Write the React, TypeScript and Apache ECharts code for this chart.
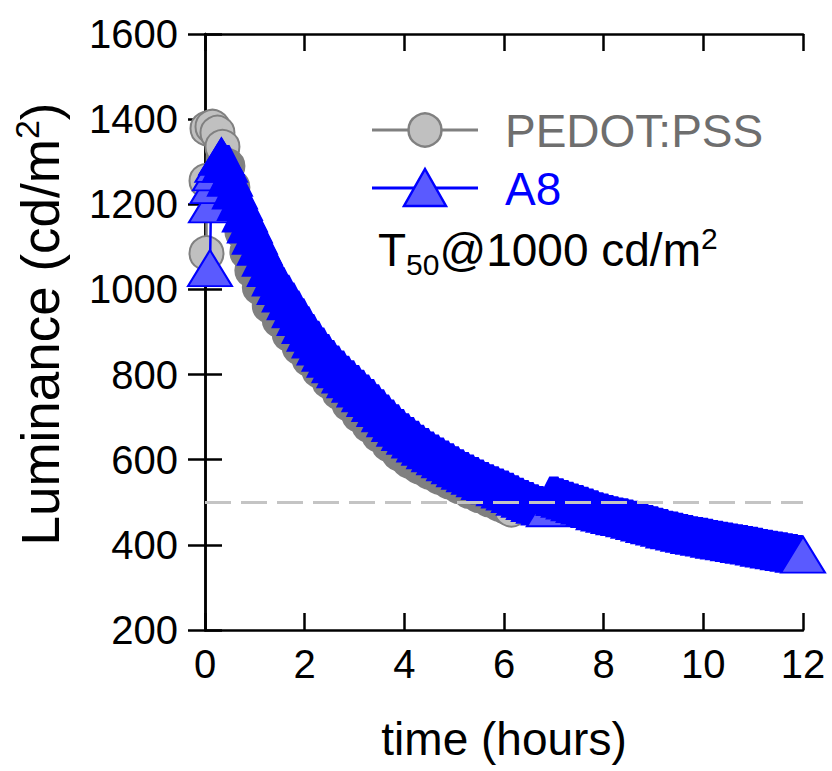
import React, { useEffect, useRef } from "react";
import * as echarts from "echarts";

// ---- data ----
const pedotTime = [
  0.03, 0.03, 0.05, 0.15, 0.25, 0.35, 0.45, 0.55, 0.65, 0.75, 0.85, 0.95, 1.1, 1.3, 1.5, 1.7, 1.9, 2.1, 2.3, 2.5,
  2.7, 2.9, 3.1, 3.3, 3.5, 3.7, 3.9, 4.1, 4.3, 4.5, 4.7, 4.9, 5.1, 5.3, 5.5, 5.7, 5.9, 6.05, 6.15,
];
const pedotLum = [
  1085, 1255, 1378, 1382, 1368, 1335, 1290, 1240, 1188, 1136, 1088, 1045, 1005, 962, 928, 895, 864, 836, 809, 784,
  758, 731, 705, 681, 658, 636, 615, 598, 584, 572, 560, 549, 538, 527, 517, 507, 497, 489, 483,
];

const a8Time = [
  0.1, 0.12, 0.15, 0.2, 0.25, 0.33, 0.4, 0.5, 0.6, 0.7, 0.8, 0.9, 1.0, 1.1, 1.2, 1.3, 1.4, 1.5, 1.6, 1.7, 1.8, 1.9,
  2.0, 2.1, 2.2, 2.3, 2.4, 2.5, 2.6, 2.7, 2.8, 2.9, 3.0, 3.1, 3.2, 3.3, 3.4, 3.5, 3.6, 3.7, 3.8, 3.9, 4.0, 4.1, 4.2,
  4.3, 4.4, 4.5, 4.6, 4.7, 4.8, 4.9, 5.0, 5.1, 5.2, 5.3, 5.4, 5.5, 5.6, 5.7, 5.8, 5.9, 6.0, 6.1, 6.2, 6.3, 6.4, 6.5,
  6.6, 6.7, 6.8, 6.9, 7.0, 7.1, 7.2, 7.3, 7.4, 7.5, 7.6, 7.7, 7.8, 7.9, 8.0, 8.1, 8.2, 8.3, 8.4, 8.5, 8.6, 8.7, 8.8,
  8.9, 9.0, 9.1, 9.2, 9.3, 9.4, 9.5, 9.6, 9.7, 9.8, 9.9, 10.0, 10.1, 10.2, 10.3, 10.4, 10.5, 10.6, 10.7, 10.8, 10.9,
  11.0, 11.1, 11.2, 11.3, 11.4, 11.5, 11.6, 11.7, 11.8, 11.9, 12.0,
];
const a8Lum = [
  1050, 1200, 1245, 1275, 1295, 1312, 1295, 1262, 1232, 1205, 1178, 1152, 1126, 1100, 1074, 1050, 1028, 1008, 990,
  972, 953, 935, 916, 898, 882, 866, 851, 837, 824, 812, 800, 789, 778, 767, 756, 745, 733, 721, 709, 697, 686, 675,
  665, 656, 647, 638, 630, 622, 615, 608, 601, 594, 587, 580, 574, 568, 562, 556, 550, 545, 540, 535, 530, 525, 519,
  513, 508, 503, 498, 494, 490, 486, 516, 512, 508, 504, 500, 496, 492, 488, 484, 479, 476, 473, 470, 467, 465, 462,
  459, 456, 452, 449, 446, 443, 440, 436, 434, 431, 428, 426, 423, 421, 419, 417, 414, 412, 410, 408, 406, 404, 402,
  400, 398, 396, 393, 391, 389, 387, 385, 383, 381, 379, 377,
];

const seriesNames = ["PEDOT:PSS", "A8"];
const t50Level = 500;
const xMin = 0, xMax = 12, xStep = 2;
const yMin = 200, yMax = 1600, yStep = 200;

// ---- styles ----
const FONT = "'Liberation Sans', Arial, sans-serif";
const GRAY_EDGE = "#808080";
const GRAY_LIGHT = "#c0c0c0";
const GRAY_DENSE = "#808080";
const BLUE = "#0000ff";
const BLUE_LIGHT = "#5a5aff";
// densely overlapping triangles merge into a band; a flat-topped marker keeps that band's edge smooth
const DENSE_MARK = "path://M19,0 L27,0 L46,38 L0,38 Z";

export default function App() {
  const ref = useRef<HTMLDivElement>(null);

  useEffect(() => {
    const chart = echarts.init(ref.current as HTMLDivElement, null, { renderer: "svg" });

    const lastP = pedotTime.length - 1;
    const pedotData = pedotTime.map((t, i) =>
      i <= 5 || i === lastP
        ? { value: [t, pedotLum[i]], itemStyle: { color: GRAY_LIGHT } }
        : { value: [t, pedotLum[i]] }
    );

    let peakIdx = 0;
    a8Lum.forEach((v, i) => {
      if (v > a8Lum[peakIdx]) peakIdx = i;
    });
    const jumpIdx = a8Lum.findIndex((v, i) => i > peakIdx && i < a8Lum.length - 1 && a8Lum[i + 1] - v > 20);
    const lastA = a8Time.length - 1;

    const a8Start = a8Time.slice(0, peakIdx + 1).map((t, i) => ({ value: [t, a8Lum[i]] }));
    const a8Band = a8Time.slice(peakIdx).map((t, k) => {
      const i = k + peakIdx;
      return i === jumpIdx || i === lastA || i === peakIdx
        ? { value: [t, a8Lum[i]], symbol: "triangle", itemStyle: { color: i === peakIdx ? BLUE : BLUE_LIGHT } }
        : { value: [t, a8Lum[i]] };
    });

    const axisLine = { show: true, lineStyle: { color: "#000", width: 2.5 } };
    const axisTick = { show: true, inside: true, length: 17, lineStyle: { color: "#000", width: 2.5 } };
    const labelStyle = { fontFamily: FONT, fontSize: 40, color: "#000" };

    const option: any = {
      animation: false,
      backgroundColor: "#ffffff",
      grid: { left: 205, right: 29, top: 34, bottom: 141, containLabel: false },
      xAxis: [
        {
          type: "value",
          min: xMin,
          max: xMax,
          interval: xStep,
          position: "bottom",
          axisLine,
          axisTick,
          splitLine: { show: false },
          axisLabel: { ...labelStyle, margin: 14, formatter: (v: number) => String(v) },
          name: "time (hours)",
          nameLocation: "middle",
          nameGap: 86,
          nameTextStyle: { fontFamily: FONT, fontSize: 46, color: "#000" },
        },
        {
          type: "value",
          min: xMin,
          max: xMax,
          interval: xStep,
          position: "top",
          axisLine,
          axisTick,
          splitLine: { show: false },
          axisLabel: { show: false },
        },
      ],
      yAxis: [
        {
          type: "value",
          min: yMin,
          max: yMax,
          interval: yStep,
          position: "left",
          axisLine,
          axisTick,
          splitLine: { show: false },
          axisLabel: { ...labelStyle, margin: 27, formatter: (v: number) => String(v) },
          name: "Luminance (cd/m{sup|2})",
          nameLocation: "middle",
          nameGap: 134,
          nameRotate: 90,
          nameTextStyle: {
            fontFamily: FONT,
            fontSize: 53,
            color: "#000",
            padding: [0, 0, 0, 16],
            rich: {
              sup: { fontFamily: FONT, fontSize: 34, color: "#000", padding: [0, 0, 27, 0] },
            },
          },
        },
        {
          type: "value",
          min: yMin,
          max: yMax,
          interval: yStep,
          position: "right",
          axisLine,
          axisTick,
          splitLine: { show: false },
          axisLabel: { show: false },
        },
      ],
      series: [
        {
          name: seriesNames[0],
          type: "line",
          data: pedotData,
          symbol: "circle",
          symbolSize: 34,
          clip: false,
          z: 2,
          lineStyle: { color: GRAY_EDGE, width: 2.5 },
          itemStyle: { color: GRAY_DENSE, borderColor: GRAY_EDGE, borderWidth: 2 },
        },
        {
          name: seriesNames[1],
          type: "line",
          data: a8Start,
          symbol: "triangle",
          symbolSize: [44, 36],
          clip: false,
          z: 3,
          lineStyle: { color: BLUE, width: 2.5 },
          itemStyle: { color: BLUE_LIGHT, borderColor: BLUE, borderWidth: 2 },
        },
        {
          name: seriesNames[1] + " trace",
          type: "line",
          data: a8Band,
          symbol: DENSE_MARK,
          symbolSize: [44, 36],
          clip: false,
          z: 3,
          lineStyle: { color: BLUE, width: 3 },
          itemStyle: { color: BLUE, borderColor: BLUE, borderWidth: 2 },
        },
        {
          name: "T50 level",
          type: "line",
          data: [],
          z: 6,
          markLine: {
            silent: true,
            symbol: ["none", "none"],
            label: { show: false },
            lineStyle: { color: "#c4c4c4", width: 3, type: [26, 10] },
            data: [[{ coord: [xMin, t50Level] }, { coord: [xMax, t50Level] }]],
          },
        },
      ],
      graphic: [
        { type: "line", shape: { x1: 372, y1: 130, x2: 478, y2: 130 }, style: { stroke: GRAY_EDGE, lineWidth: 3 } },
        { type: "circle", shape: { cx: 425, cy: 130, r: 16.5 }, style: { fill: GRAY_LIGHT, stroke: GRAY_EDGE, lineWidth: 2.5 } },
        {
          type: "text",
          x: 505,
          y: 131,
          style: { text: seriesNames[0], fontFamily: FONT, fontSize: 46, fill: "#6e6e6e", verticalAlign: "middle" },
        },
        { type: "line", shape: { x1: 372, y1: 188, x2: 478, y2: 188 }, style: { stroke: BLUE, lineWidth: 3 } },
        {
          type: "polygon",
          shape: { points: [[425, 169], [446, 206], [404, 206]] },
          style: { fill: BLUE_LIGHT, stroke: BLUE, lineWidth: 2.5 },
        },
        {
          type: "text",
          x: 505,
          y: 189,
          style: { text: seriesNames[1], fontFamily: FONT, fontSize: 46, fill: BLUE, verticalAlign: "middle" },
        },
        {
          type: "text",
          x: 378,
          y: 250,
          style: {
            text: "T{sub|50}@1000 cd/m{sup|2}",
            fontFamily: FONT,
            fontSize: 46,
            fill: "#000",
            verticalAlign: "middle",
            rich: {
              sub: { fontFamily: FONT, fontSize: 30, fill: "#000", padding: [28, 0, 0, 0] },
              sup: { fontFamily: FONT, fontSize: 30, fill: "#000", padding: [0, 0, 24, 0] },
            },
          },
        },
      ],
    };

    chart.setOption(option);
    return () => chart.dispose();
  }, []);

  return <div ref={ref} style={{ position: "fixed", left: 0, top: 0, width: 832, height: 771 }} />;
}
